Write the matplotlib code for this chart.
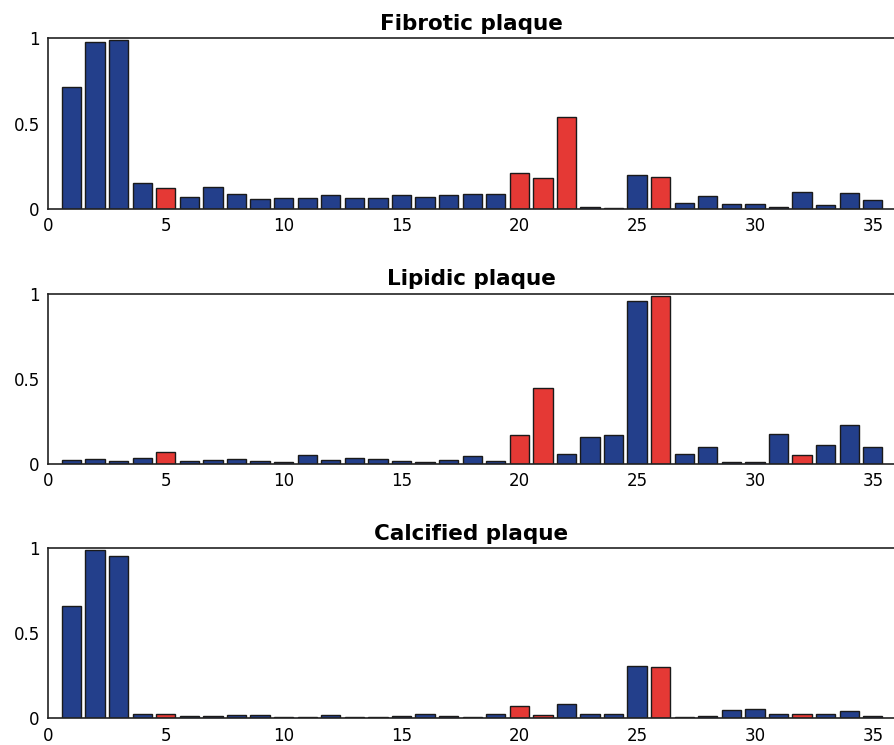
import matplotlib
matplotlib.use("Agg")
import matplotlib.pyplot as plt
import numpy as np

positions = np.arange(1, 36)

fibrotic = [0.717, 0.977, 0.99, 0.154, 0.123, 0.072, 0.131, 0.088, 0.057, 0.062,
            0.062, 0.080, 0.062, 0.064, 0.080, 0.072, 0.080, 0.088, 0.088, 0.209,
            0.184, 0.537, 0.014, 0.008, 0.197, 0.189, 0.033, 0.076, 0.027, 0.027,
            0.010, 0.098, 0.023, 0.092, 0.051]
lipidic = [0.025, 0.031, 0.018, 0.037, 0.070, 0.016, 0.022, 0.031, 0.018, 0.014,
           0.055, 0.027, 0.037, 0.033, 0.016, 0.012, 0.027, 0.047, 0.020, 0.170,
           0.446, 0.059, 0.157, 0.168, 0.957, 0.986, 0.057, 0.100, 0.014, 0.014,
           0.174, 0.055, 0.112, 0.229, 0.098]
calcified = [0.657, 0.990, 0.955, 0.027, 0.024, 0.016, 0.016, 0.022, 0.022, 0.010,
             0.010, 0.020, 0.008, 0.008, 0.014, 0.024, 0.016, 0.010, 0.024, 0.075,
             0.020, 0.084, 0.027, 0.025, 0.310, 0.304, 0.006, 0.016, 0.051, 0.053,
             0.024, 0.029, 0.025, 0.045, 0.014]

# highlighted (red) positions per panel
fibrotic_red = [5, 20, 21, 22, 26]
lipidic_red = [5, 20, 21, 26, 32]
calcified_red = [5, 20, 21, 26, 32]

titles = ["Fibrotic plaque", "Lipidic plaque", "Calcified plaque"]
series = [fibrotic, lipidic, calcified]
reds = [fibrotic_red, lipidic_red, calcified_red]

blue = "#233f8b"
red = "#e53935"

fig = plt.figure(figsize=(8.94, 7.45), dpi=100)
bottoms = [0.7195, 0.377, 0.0356]
height = 0.229

for title, vals, red_idx, b in zip(titles, series, reds, bottoms):
    ax = fig.add_axes([0.0537, b, 0.9463, height])
    colors = [red if p in red_idx else blue for p in positions]
    ax.bar(positions, vals, width=0.82, color=colors, edgecolor="#1a1a1a", linewidth=1)
    ax.set_xlim(0, 35.9)
    ax.set_ylim(0, 1)
    ax.set_xticks([0, 5, 10, 15, 20, 25, 30, 35])
    ax.set_yticks([0, 0.5, 1])
    ax.set_yticklabels(["0", "0.5", "1"])
    ax.tick_params(length=0, labelsize=12, pad=6)
    ax.spines["right"].set_visible(False)
    for s in ["left", "top", "bottom"]:
        ax.spines[s].set_linewidth(1.2)
        ax.spines[s].set_color("#222222")
    ax.set_title(title, fontsize=15.5, fontweight="bold", pad=6)

plt.savefig("out.png", dpi=100)
